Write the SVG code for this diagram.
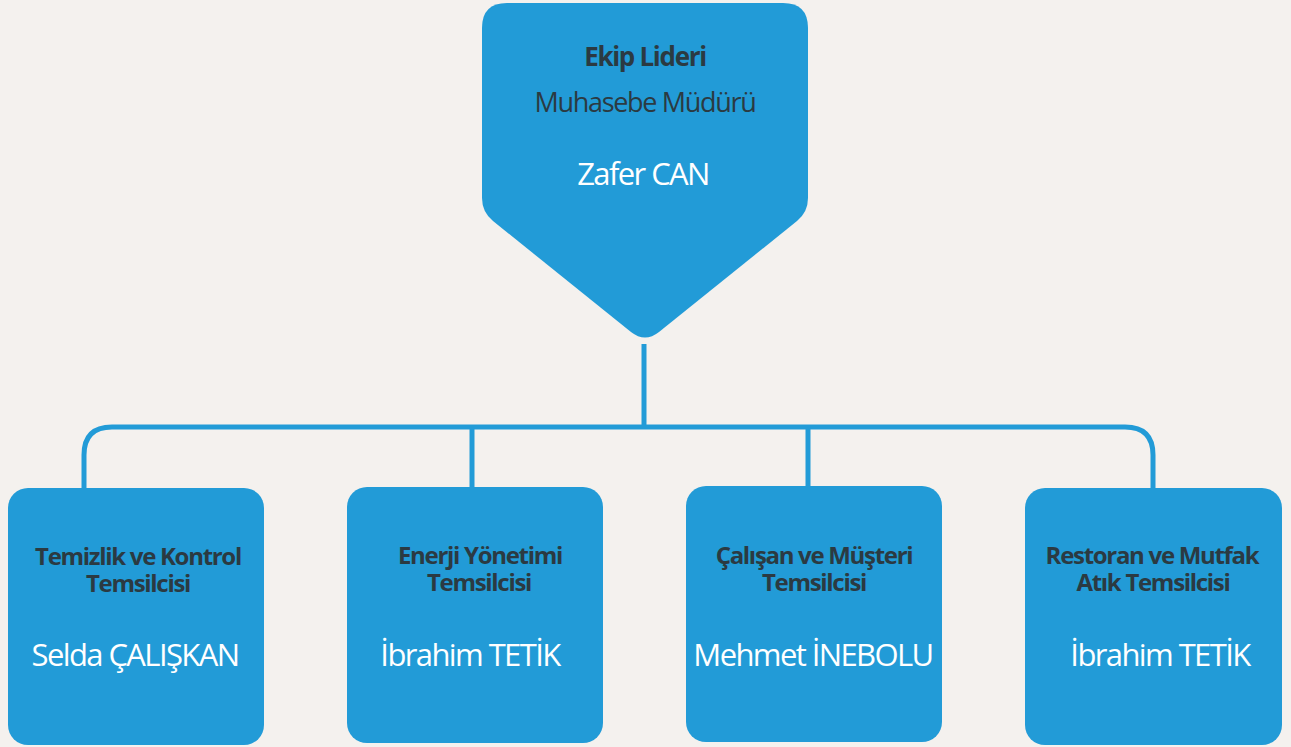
<svg xmlns="http://www.w3.org/2000/svg" width="1291" height="747" viewBox="0 0 1291 747">
<style>
.bg{fill:#F4F1EE}
.node{fill:#229BD7}
.conn{fill:none;stroke:#229BD7;stroke-width:5}
text{font-family:"Open Sans","Noto Sans",sans-serif;text-anchor:middle}
.t{fill:#2B3A42;font-weight:700;font-size:24px;letter-spacing:-1.3px}
.h{fill:#2B3A42;font-weight:700;font-size:26px;letter-spacing:-1.3px}
.s{fill:#2B3A42;font-size:27px;letter-spacing:-1.3px}
.n{fill:#FFFFFF;font-size:31px;letter-spacing:-1.6px}
</style>
<rect class="bg" x="0" y="0" width="1291" height="747"/>
<g id="connectors">
<path class="conn" d="M644,344 V427"/>
<path class="conn" d="M84,488 V455 Q84,427 112,427 H1125 Q1153,427 1153,455 V488"/>
<path class="conn" d="M472,427 V487"/>
<path class="conn" d="M808,427 V486"/>
</g>
<g id="leader">
<path class="node" d="M507,3 H783 Q808,3 808,28 V198 Q808,212 797,221 L659,332 Q645,343 631,332 L493,221 Q482,212 482,198 V28 Q482,3 507,3 Z"/>
<text class="h" x="645" y="66">Ekip Lideri</text>
<text class="s" x="645" y="112">Muhasebe Müdürü</text>
<text class="n" x="643" y="185">Zafer CAN</text>
</g>
<g id="node1">
<rect class="node" x="8" y="488" width="256" height="257" rx="20"/>
<text class="t" x="138" y="565">Temizlik ve Kontrol</text>
<text class="t" x="138" y="592">Temsilcisi</text>
<text class="n" x="135" y="666">Selda ÇALIŞKAN</text>
</g>
<g id="node2">
<rect class="node" x="347" y="487" width="256" height="256" rx="20"/>
<text class="t" x="480" y="564">Enerji Yönetimi</text>
<text class="t" x="479" y="591">Temsilcisi</text>
<text class="n" x="470" y="666">İbrahim TETİK</text>
</g>
<g id="node3">
<rect class="node" x="686" y="486" width="256" height="256" rx="20"/>
<text class="t" x="814" y="564">Çalışan ve Müşteri</text>
<text class="t" x="814" y="591">Temsilcisi</text>
<text class="n" x="813" y="666">Mehmet İNEBOLU</text>
</g>
<g id="node4">
<rect class="node" x="1025" y="488" width="257" height="257" rx="20"/>
<text class="t" x="1152" y="564">Restoran ve Mutfak</text>
<text class="t" x="1153" y="591">Atık Temsilcisi</text>
<text class="n" x="1160" y="666">İbrahim TETİK</text>
</g>
</svg>
